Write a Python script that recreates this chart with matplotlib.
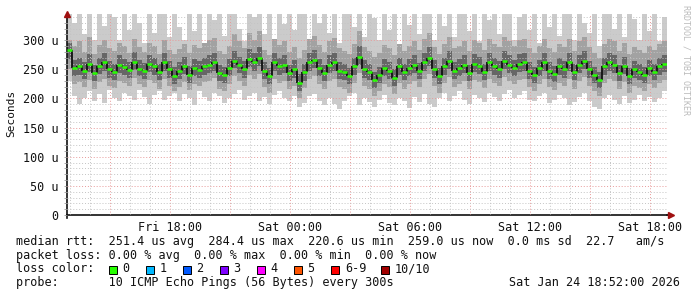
import numpy as np
import matplotlib
matplotlib.use('Agg')
import matplotlib.pyplot as plt
from matplotlib.ticker import FixedLocator, FixedFormatter, MultipleLocator
from matplotlib.patches import Rectangle

# 15 minute samples, Fri 12:52 .. Sat 18:52 (hours since Fri 00:00)
t0 = 12.0 + 52.0 / 60.0
step = 0.25

# median rtt (us)
median = [283, 252, 255, 248, 260, 244, 256, 262, 250, 246, 258, 254, 249, 263, 251, 247, 259, 255, 245, 262, 250,
          238, 248, 256, 241, 252, 249, 255, 258, 262, 244, 240, 252, 265, 257, 250, 268, 262, 270, 248, 238, 262, 255, 258, 244,
          250, 226, 245, 262, 266, 252, 244, 258, 262, 248, 245, 238, 255, 272, 250, 245, 232, 240, 252, 248, 236, 255, 245, 252,
          258, 247, 262, 270, 250, 238, 255, 265, 248, 252, 258, 244, 260, 256, 246, 262, 255, 250, 265, 258, 252, 260, 262, 248,
          240, 252, 262, 248, 242, 255, 250, 262, 245, 258, 265, 250, 240, 232, 255, 262, 258, 244, 256, 238, 250, 246, 240, 252, 246, 255, 259]

# smoke: outer (light), middle, inner (dark) bands
hi1 = [345, 330, 345, 310, 345, 300, 345, 325, 345, 340, 300, 345, 318, 345, 330, 296, 345, 312, 345, 345, 305,
       345, 322, 300, 345, 315, 345, 290, 345, 335, 345, 308, 345, 345, 320, 298, 345, 340, 345, 310, 345, 300, 345, 328, 345,
       318, 345, 345, 302, 345, 330, 345, 312, 345, 295, 345, 345, 322, 345, 306, 345, 338, 300, 345, 318, 345, 290, 345, 326,
       345, 310, 345, 345, 300, 345, 325, 345, 305, 345, 345, 316, 345, 298, 345, 334, 345, 310, 345, 345, 300, 340, 345, 318,
       345, 296, 345, 322, 345, 308, 345, 345, 300, 345, 330, 312, 345, 290, 345, 345, 320, 345, 305, 345, 336, 300, 345, 315, 345, 298, 340]
lo1 = [230, 205, 190, 200, 212, 195, 208, 192, 215, 200, 196, 210, 205, 198, 214, 202, 190, 206, 212, 198, 204,
       210, 196, 208, 200, 188, 212, 203, 196, 210, 205, 192, 200, 208, 214, 198, 204, 210, 196, 202, 190, 206, 212, 200, 196,
       205, 185, 192, 204, 208, 196, 188, 200, 190, 182, 196, 204, 210, 188, 200, 194, 186, 198, 206, 192, 188, 200, 196, 184,
       202, 194, 208, 190, 186, 200, 210, 196, 204, 212, 198, 190, 206, 200, 194, 210, 202, 196, 208, 214, 200, 206, 212, 198,
       196, 204, 210, 192, 198, 206, 200, 188, 194, 202, 210, 196, 186, 182, 200, 206, 198, 190, 204, 192, 198, 206, 196, 202, 194, 200, 212]
hi2 = [300, 290, 298, 280, 305, 276, 292, 300, 286, 282, 296, 290, 278, 302, 288, 280, 296, 290, 276, 300, 284,
       276, 285, 294, 278, 292, 286, 296, 300, 304, 282, 276, 290, 310, 298, 286, 312, 300, 315, 284, 274, 302, 292, 298, 280,
       288, 270, 284, 302, 308, 292, 280, 298, 304, 286, 282, 276, 294, 315, 288, 282, 272, 278, 292, 286, 274, 294, 282, 290,
       298, 284, 302, 312, 288, 276, 294, 306, 286, 290, 298, 282, 300, 296, 284, 302, 294, 288, 306, 298, 290, 300, 302, 286,
       278, 290, 302, 286, 280, 294, 288, 302, 282, 298, 306, 288, 278, 270, 294, 302, 298, 282, 296, 276, 288, 284, 278, 290, 284, 294, 298]
lo2 = [250, 225, 228, 220, 232, 216, 228, 234, 222, 218, 230, 226, 221, 235, 224, 219, 231, 227, 217, 234, 222,
       212, 220, 228, 214, 225, 222, 228, 230, 235, 217, 212, 225, 238, 230, 222, 240, 234, 242, 220, 210, 234, 227, 230, 216,
       222, 200, 218, 234, 238, 224, 216, 230, 234, 220, 217, 210, 227, 244, 222, 217, 205, 212, 225, 220, 208, 227, 217, 224,
       230, 219, 234, 242, 222, 210, 227, 237, 220, 224, 230, 216, 232, 228, 218, 234, 227, 222, 237, 230, 224, 232, 234, 220,
       212, 224, 234, 220, 214, 227, 222, 234, 217, 230, 237, 222, 212, 204, 227, 234, 230, 216, 228, 210, 222, 218, 212, 224, 218, 227, 231]
hi3 = [296, 266, 270, 262, 276, 258, 270, 278, 264, 260, 274, 268, 263, 279, 266, 261, 275, 270, 259, 278, 264,
       254, 262, 272, 256, 268, 264, 270, 274, 278, 258, 254, 268, 282, 272, 264, 285, 278, 288, 262, 252, 278, 270, 274, 258,
       266, 242, 260, 278, 283, 268, 258, 274, 278, 262, 259, 252, 270, 290, 266, 260, 246, 254, 268, 262, 250, 270, 259, 268,
       274, 261, 278, 288, 266, 252, 270, 282, 262, 268, 274, 258, 276, 272, 260, 278, 270, 264, 282, 274, 266, 276, 278, 262,
       254, 266, 278, 262, 256, 270, 264, 278, 259, 274, 282, 264, 254, 246, 270, 278, 274, 258, 272, 252, 264, 260, 254, 266, 260, 270, 274]
lo3 = [268, 238, 240, 234, 246, 230, 242, 248, 236, 232, 244, 240, 235, 249, 238, 233, 245, 241, 231, 248, 236,
       224, 234, 242, 226, 238, 235, 240, 244, 248, 230, 226, 238, 252, 243, 236, 254, 248, 256, 234, 224, 248, 241, 244, 230,
       236, 212, 230, 248, 252, 238, 230, 244, 248, 234, 231, 224, 241, 258, 236, 231, 218, 226, 238, 234, 222, 241, 231, 238,
       244, 233, 248, 256, 236, 224, 241, 251, 234, 238, 244, 230, 246, 242, 232, 248, 241, 236, 251, 244, 238, 246, 248, 234,
       226, 238, 248, 234, 228, 241, 236, 248, 231, 244, 251, 236, 226, 218, 241, 248, 244, 230, 242, 224, 236, 232, 226, 238, 232, 241, 245]

yticks = [0, 50, 100, 150, 200, 250, 300]
ylabels = ['0', '50 u', '100 u', '150 u', '200 u', '250 u', '300 u']
xticks = [18, 24, 30, 36, 42]
xlabels = ['Fri 18:00', 'Sat 00:00', 'Sat 06:00', 'Sat 12:00', 'Sat 18:00']

loss_labels = ['0', '1', '2', '3', '4', '5', '6-9', '10/10']
loss_colors = ['#26ff00', '#00b8ff', '#0059ff', '#7e00ff', '#ff00ff', '#ff5500', '#ff0000', '#a10000']

mono = 'DejaVu Sans Mono'
W, H = 697, 297

fig = plt.figure(figsize=(W / 100, H / 100), dpi=100)
fig.patch.set_facecolor('white')
ax = fig.add_axes([67 / W, 1 - 215 / H, 600 / W, 201 / H])

t = t0 + step * np.arange(len(median))
med = np.array(median, dtype=float)

for lo, hi, c in [(lo1, hi1, '#cbcbcb'), (lo2, hi2, '#a2a2a2'), (lo3, hi3, '#666666')]:
    lo = np.array(lo, float)
    hi = np.array(hi, float)
    ax.bar(t, hi - lo, bottom=lo, width=step, align='edge', color=c, linewidth=0, zorder=1)

# median as step line: green levels, dark joins
ax.vlines(t[1:], med[:-1], med[1:], color='#111111', linewidth=1.3, zorder=3)
ax.hlines(med, t, t + step, color='#26ff00', linewidth=1.8, zorder=4)

ax.set_xlim(t0, t0 + 30)
ax.set_ylim(0, 345)

ax.yaxis.set_major_locator(FixedLocator(yticks))
ax.yaxis.set_major_formatter(FixedFormatter(ylabels))
ax.yaxis.set_minor_locator(MultipleLocator(10))
major_x = list(range(15, 43, 3))
ax.xaxis.set_major_locator(FixedLocator(major_x))
ax.xaxis.set_major_formatter(FixedFormatter([xlabels[xticks.index(v)] if v in xticks else '' for v in major_x]))
ax.xaxis.set_minor_locator(MultipleLocator(1))

ax.set_axisbelow(False)
ax.grid(which='minor', color='#c4c4c4', linestyle=(0, (1, 2)), linewidth=0.7)
ax.grid(which='major', color='#e89a9a', linestyle=(0, (1, 2)), linewidth=0.7)

for s in ['top', 'right']:
    ax.spines[s].set_visible(False)
for s in ['left', 'bottom']:
    ax.spines[s].set_color('#111111')
    ax.spines[s].set_linewidth(1.2)

ax.tick_params(axis='x', which='both', length=0, pad=4, labelsize=8.5)
ax.tick_params(axis='y', which='both', direction='out', color='#999999', width=0.6, length=2)
ax.tick_params(axis='y', which='major', pad=4, labelsize=8.5)
for lab in ax.get_xticklabels() + ax.get_yticklabels():
    lab.set_family(mono)
    lab.set_color('#111111')

# axis arrows and the small cross below the origin
ax.plot([0, 0], [0, -0.015], color='#111111', linewidth=1.2, transform=ax.transAxes, clip_on=False)
ax.plot([0], [1.0], marker='^', color='#a01010', markersize=4, transform=ax.transAxes, clip_on=False, zorder=6)
ax.plot([1.007], [0], marker='>', color='#a01010', markersize=4, transform=ax.transAxes, clip_on=False, zorder=6)
ax.plot([1.0, 1.007], [0, 0], color='#111111', linewidth=1.2, transform=ax.transAxes, clip_on=False)

fig.text(11 / W, 1 - 113 / H, 'Seconds', rotation=90, family=mono, fontsize=8,
         ha='center', va='center', color='#111111')
fig.text(686 / W, 1 - 60 / H, 'RRDTOOL / TOBI OETIKER', rotation=270, family=mono, fontsize=6,
         ha='center', va='center', color='#bbbbbb')

def px(x, y):
    return x / W, 1 - y / H

fs = 8.5
fig.text(*px(16, 241.5), 'median rtt:  251.4 us avg  284.4 us max  220.6 us min  259.0 us now  0.0 ms sd  22.7   am/s',
         family=mono, fontsize=fs, va='center', color='#111111')
fig.text(*px(16, 255.2), 'packet loss: 0.00 % avg  0.00 % max  0.00 % min  0.00 % now',
         family=mono, fontsize=fs, va='center', color='#111111')
fig.text(*px(16, 269), 'loss color:', family=mono, fontsize=fs, va='center', color='#111111')
box_x = [108.5, 145.5, 182.5, 219.5, 256.5, 293.5, 331, 381]
for bx, lab, c in zip(box_x, loss_labels, loss_colors):
    fig.add_artist(Rectangle(px(bx, 273.5), 8 / W, 8 / H, transform=fig.transFigure,
                             facecolor=c, edgecolor='#000000', linewidth=0.7))
    fig.text(*px(bx + 14, 269), lab, family=mono, fontsize=fs, va='center', color='#111111')
fig.text(*px(16, 282.8), 'probe:       10 ICMP Echo Pings (56 Bytes) every 300s',
         family=mono, fontsize=fs, va='center', color='#111111')
fig.text(*px(680, 282.8), 'Sat Jan 24 18:52:00 2026', family=mono, fontsize=fs,
         va='center', ha='right', color='#111111')

fig.savefig('out.png', dpi=100, facecolor='white')
